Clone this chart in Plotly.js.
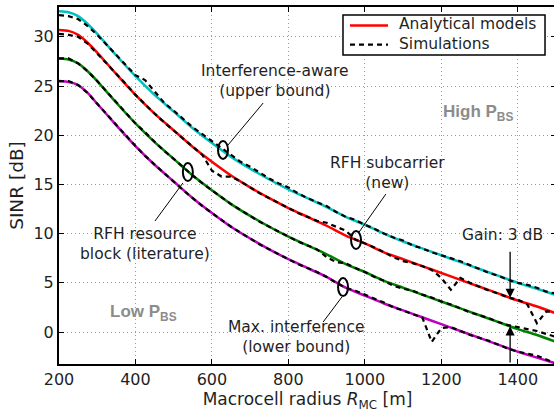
<!DOCTYPE html>
<html>
<head>
<meta charset="utf-8">
<script src="https://cdn.plot.ly/plotly-3.0.1.min.js"></script>
<style>
  html, body { margin: 0; padding: 0; overflow: hidden; background: #fff; }
  #chart { width: 560px; height: 414px; }
</style>
</head>
<body>
<div id="chart"></div>
<script>
// Macrocell radius [m] for the analytical curves
const radiusModel = [200, 225, 250, 275, 300, 350, 400, 450, 500, 550, 600, 650, 700, 750,
  800, 850, 900, 950, 1000, 1050, 1100, 1150, 1200, 1250, 1300, 1350, 1400, 1450, 1500];

// Analytical SINR [dB]
const sinrUpper = [32.6, 32.5, 32.1, 31.3, 30.3, 28.1, 26.0, 24.1, 22.4, 20.7, 19.2, 17.8, 16.6, 15.5,
  14.5, 13.6, 12.7, 11.7, 10.9, 10.0, 9.2, 8.5, 7.8, 7.1, 6.4, 5.7, 5.0, 4.4, 3.75];
const sinrSubcarrier = [30.7, 30.6, 30.2, 29.4, 28.4, 26.2, 24.1, 22.2, 20.5, 18.8, 17.3, 15.9, 14.7, 13.6,
  12.6, 11.7, 10.8, 9.8, 9.0, 8.1, 7.4, 6.7, 6.0, 5.3, 4.6, 3.9, 3.2, 2.6, 1.9];
const sinrResourceBlock = [27.8, 27.7, 27.3, 26.5, 25.5, 23.3, 21.2, 19.3, 17.6, 15.9, 14.4, 13.0, 11.8, 10.7,
  9.7, 8.8, 7.9, 6.9, 6.1, 5.2, 4.5, 3.8, 3.1, 2.4, 1.7, 1.0, 0.3, -0.3, -1.0];
const sinrLower = [25.5, 25.4, 25.1, 24.3, 23.2, 21.0, 18.9, 17.0, 15.3, 13.6, 12.1, 10.7, 9.5, 8.4,
  7.4, 6.5, 5.6, 4.5, 3.7, 2.9, 2.2, 1.5, 0.8, 0.1, -0.6, -1.3, -2.0, -2.6, -3.2];

// Macrocell radius [m] for the simulation runs
const radiusSim = [200, 225, 250, 275, 300, 325, 350, 375, 400, 425, 450, 475, 500, 525, 550, 575,
  600, 625, 650, 675, 700, 725, 750, 775, 800, 825, 850, 875, 900, 925, 950, 975, 1000, 1025,
  1050, 1075, 1100, 1125, 1150, 1175, 1200, 1225, 1250, 1275, 1300, 1325, 1350, 1375, 1400,
  1425, 1450, 1475, 1500];

// Simulated SINR [dB]
const simUpper = [32.2, 32.1, 31.8, 31.1, 30.2, 29.2, 28.1, 27.1, 26.1, 25.6, 24.4, 23.3, 22.5, 21.6,
  20.8, 20.1, 19.4, 18.7, 18.0, 17.3, 16.8, 16.2, 15.6, 15.1, 14.7, 14.1, 13.6, 13.2, 12.8, 12.2,
  11.7, 11.4, 10.9, 10.5, 10.0, 9.6, 9.3, 8.8, 8.5, 8.1, 7.8, 7.5, 7.2, 6.8, 6.4, 6.0, 5.7, 5.3,
  5.0, 4.8, 4.5, 4.1, 3.9];
const simSubcarrier = [30.3, 30.2, 30.0, 29.3, 28.3, 27.3, 26.2, 25.2, 24.1, 23.1, 22.2, 21.3, 20.5, 19.6,
  18.8, 18.0, 16.4, 15.8, 15.8, 15.3, 14.7, 14.1, 13.6, 13.1, 12.6, 12.1, 11.7, 11.3, 11.1, 10.7,
  10.3, 9.4, 9.0, 8.6, 8.1, 7.6, 7.2, 7.0, 6.7, 6.3, 5.5, 4.3, 5.5, 5.0, 4.6, 4.2, 3.9, 3.5,
  3.3, 2.8, 0.9, 2.1, 2.0];
const simResourceBlock = [27.8, 27.8, 27.3, 26.5, 25.5, 24.4, 23.3, 22.2, 21.2, 20.3, 19.3, 18.4, 17.6, 16.7,
  15.9, 15.1, 14.4, 13.7, 13.0, 12.4, 11.8, 11.2, 10.7, 10.2, 9.7, 9.2, 8.8, 8.4, 7.6, 7.1,
  7.0, 6.5, 6.1, 5.6, 5.2, 4.7, 4.4, 4.2, 3.8, 3.5, 3.1, 2.8, 2.4, 2.0, 1.7, 1.4, 1.0, 0.7,
  0.5, 0.3, 0.1, -0.2, -0.5];
const simLower = [25.5, 25.5, 25.1, 24.3, 23.2, 22.1, 21.0, 19.9, 18.9, 17.9, 17.0, 16.1, 15.3, 14.4,
  13.6, 12.8, 12.1, 11.4, 10.7, 10.1, 9.5, 8.9, 8.4, 7.9, 7.4, 6.9, 6.5, 6.1, 5.6, 5.0,
  4.5, 4.2, 3.8, 3.4, 3.0, 2.5, 2.2, 1.8, 1.5, -1.0, 0.4, 0.5, 0.1, -0.3, -0.6, -0.9, -1.3, -1.7,
  -2.0, -2.2, -2.4, -2.8, -3.2];

// Axis ticks
const xTicks = [200, 400, 600, 800, 1000, 1200, 1400];
const yTicks = [0, 5, 10, 15, 20, 25, 30];

// Radius where the 3 dB gain is marked
const gainRadius = 1380;

function valueAt(xs, ys, x) {
  for (let i = 1; i < xs.length; i++) {
    if (x <= xs[i]) {
      const t = (x - xs[i - 1]) / (xs[i] - xs[i - 1]);
      return ys[i - 1] + t * (ys[i] - ys[i - 1]);
    }
  }
  return ys[ys.length - 1];
}

const FONT = 'DejaVu Sans, sans-serif';
const BOLD_FONT = 'Liberation Sans, Arial, sans-serif';
const TEXT = '#1f1f1f';
const SIM_DASH = '5px,4px';

function modelTrace(y, color) {
  return { x: radiusModel, y: y, type: 'scatter', mode: 'lines', showlegend: false,
    line: { color: color, width: 2.5, shape: 'spline', smoothing: 0.6 }, hoverinfo: 'skip' };
}
function simTrace(y) {
  return { x: radiusSim, y: y, type: 'scatter', mode: 'lines', showlegend: false,
    line: { color: '#000', width: 2.2, dash: SIM_DASH }, hoverinfo: 'skip' };
}

const traces = [
  modelTrace(sinrUpper, '#00bfbf'),
  modelTrace(sinrSubcarrier, '#ff0000'),
  modelTrace(sinrResourceBlock, '#008000'),
  modelTrace(sinrLower, '#bf00bf'),
  simTrace(simUpper),
  simTrace(simSubcarrier),
  simTrace(simResourceBlock),
  simTrace(simLower)
];

const yMin = -3.25, yMax = 33.03;

function label(text, x, y, opts) {
  return Object.assign({ text: text, x: x, y: y, xref: 'x', yref: 'y', showarrow: false,
    xanchor: 'center', yanchor: 'middle', align: 'center',
    font: { family: FONT, size: 15.5, color: TEXT } }, opts || {});
}
function marker(x, y) {
  return { type: 'circle', xref: 'x', yref: 'y', xsizemode: 'pixel', ysizemode: 'pixel',
    xanchor: x, yanchor: y, x0: -5, x1: 5, y0: -9, y1: 9,
    line: { color: '#000', width: 2 }, layer: 'above' };
}
function pointer(x0, y0, x1, y1) {
  return { type: 'line', xref: 'x', yref: 'y', x0: x0, y0: y0, x1: x1, y1: y1,
    line: { color: '#000', width: 1 }, layer: 'above' };
}

const redAtGain = valueAt(radiusModel, sinrSubcarrier, gainRadius);
const greenAtGain = valueAt(radiusModel, sinrResourceBlock, gainRadius);

const annotations = [
  label('Interference-aware<br>(upper bound)', 764, 25.5),
  label('RFH subcarrier<br>(new)', 1059, 16.15),
  label('RFH resource<br>block (literature)', 424, 8.95),
  label('Max. interference<br>(lower bound)', 821, -0.5),
  label('Gain: 3 dB', 1359, 9.85),
  label('<b>High P<sub>BS</sub></b>', 1296, 22.3, { font: { family: BOLD_FONT, size: 17, color: '#8c8c8c' } }),
  label('<b>Low P<sub>BS</sub></b>', 420, 1.9, { font: { family: BOLD_FONT, size: 17, color: '#8c8c8c' } }),
  { x: gainRadius, y: redAtGain, ax: gainRadius, ay: 8.3, xref: 'x', yref: 'y', axref: 'x', ayref: 'y',
    text: '', showarrow: true, arrowhead: 2, arrowsize: 1.4, arrowwidth: 1.3, arrowcolor: '#000' },
  { x: gainRadius, y: greenAtGain, ax: gainRadius, ay: yMin, xref: 'x', yref: 'y', axref: 'x', ayref: 'y',
    text: '', showarrow: true, arrowhead: 2, arrowsize: 1.4, arrowwidth: 1.3, arrowcolor: '#000' },
  // legend entries
  { text: 'Analytical models<br>Simulations', x: 0.680, y: 0.9230, xref: 'paper', yref: 'paper',
    showarrow: false, xanchor: 'left', yanchor: 'middle', align: 'left',
    font: { family: FONT, size: 15.5, color: TEXT } }
];

const shapes = [
  marker(629, 18.5),
  marker(977, 9.35),
  marker(537, 16.26),
  marker(943, 4.57),
  pointer(642, 19.0, 734, 23.27),
  pointer(1055, 14.02, 985, 10.16),
  pointer(524, 15.14, 451, 11.28),
  pointer(940, 3.56, 891, 1.02),
  // legend box and line samples
  { type: 'rect', xref: 'paper', yref: 'paper', x0: 0.5714, x1: 0.9779, y0: 0.8655, y1: 0.9776,
    fillcolor: '#fff', line: { color: '#000', width: 1.5 }, layer: 'above' },
  { type: 'line', xref: 'paper', yref: 'paper', x0: 0.5855, x1: 0.662, y0: 0.9485, y1: 0.9485,
    line: { color: '#ff0000', width: 2.5 }, layer: 'above' },
  { type: 'line', xref: 'paper', yref: 'paper', x0: 0.5855, x1: 0.662, y0: 0.8947, y1: 0.8947,
    line: { color: '#000', width: 2.2, dash: SIM_DASH }, layer: 'above' }
];

const axisCommon = {
  showgrid: true, gridcolor: '#9a9a9a', gridwidth: 1, griddash: '1px,3px',
  zeroline: false, showline: true, linecolor: '#000', linewidth: 2, mirror: 'ticks',
  ticks: 'inside', ticklen: 5, tickwidth: 1, tickcolor: '#000',
  tickfont: { family: FONT, size: 16, color: TEXT }
};

const layout = {
  width: 560, height: 414,
  margin: { l: 59, r: 4, t: 7, b: 50 },
  paper_bgcolor: '#fff', plot_bgcolor: '#fff',
  showlegend: false,
  xaxis: Object.assign({}, axisCommon, {
    range: [200, 1500], tickmode: 'array', tickvals: xTicks,
    title: { text: 'Macrocell radius <i>R</i><sub>MC</sub> [m]', font: { family: FONT, size: 17, color: TEXT }, standoff: 4 }
  }),
  yaxis: Object.assign({}, axisCommon, {
    range: [yMin, yMax], tickmode: 'array', tickvals: yTicks,
    title: { text: 'SINR [dB]', font: { family: FONT, size: 18.5, color: TEXT }, standoff: 5 }
  }),
  annotations: annotations,
  shapes: shapes
};

Plotly.newPlot('chart', traces, layout, { displayModeBar: false, staticPlot: true });
</script>
</body>
</html>
